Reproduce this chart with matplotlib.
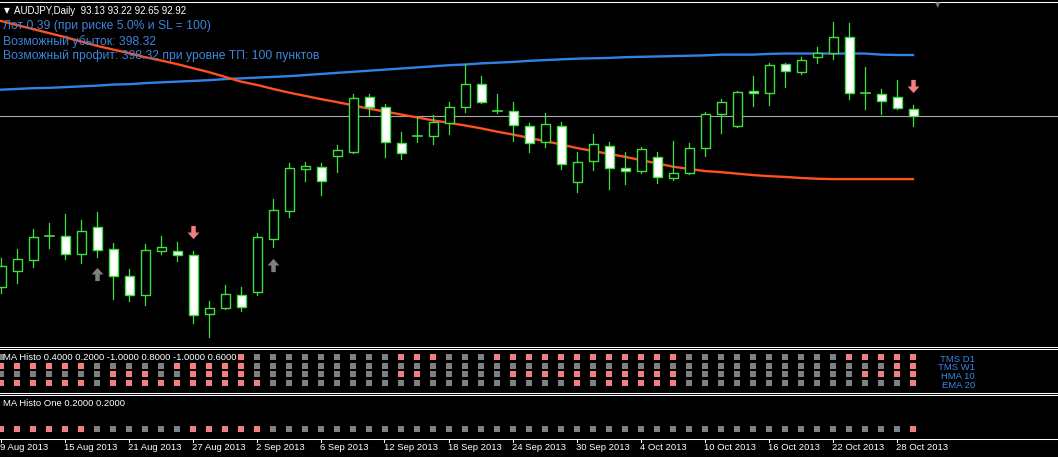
import matplotlib
matplotlib.use("Agg")
import matplotlib.pyplot as plt
from matplotlib.patches import Rectangle
from matplotlib.path import Path
from matplotlib.lines import Line2D

W, H = 1058, 457

# --- daily bars AUDJPY, 9 Aug 2013 .. 29 Oct 2013 ---
opens = [88.24, 88.69, 88.98, 89.64, 89.65, 89.14, 89.90, 89.28, 88.54, 88.03,
         89.24, 89.24, 89.11, 87.50, 87.68, 88.03, 88.11, 89.57, 90.33, 91.48,
         91.52, 91.84, 91.95, 93.44, 93.17, 92.18, 92.39, 92.37, 92.73, 93.17,
         93.80, 93.07, 93.07, 92.66, 92.21, 92.66, 91.11, 91.69, 92.11, 91.50,
         91.41, 91.81, 91.24, 91.36, 92.04, 92.97, 92.66, 93.61, 93.55, 94.35,
         94.14, 94.54, 94.65, 95.08, 93.55, 93.52, 93.44, 93.13]
highs = [89.04, 89.28, 89.83, 89.99, 90.24, 90.08, 90.30, 89.44, 88.74, 89.41,
         89.64, 89.47, 89.23, 87.87, 88.30, 88.24, 89.71, 90.65, 91.65, 91.68,
         91.63, 92.13, 93.53, 93.53, 93.26, 92.50, 92.89, 92.96, 93.32, 94.34,
         94.02, 93.52, 93.32, 92.73, 93.00, 92.77, 91.93, 92.44, 92.22, 91.93,
         92.09, 91.93, 92.24, 92.20, 93.03, 93.39, 93.61, 94.02, 94.39, 94.39,
         94.54, 94.81, 95.50, 95.47, 94.26, 93.66, 93.91, 93.22]
lows = [88.08, 88.34, 88.78, 89.32, 89.00, 88.89, 89.07, 87.91, 87.87, 87.74,
        89.14, 88.95, 87.27, 86.87, 87.63, 87.59, 88.03, 89.35, 90.15, 91.16,
        90.76, 91.40, 91.91, 92.94, 91.80, 91.74, 92.21, 92.15, 92.43, 93.03,
        93.28, 93.00, 92.25, 91.95, 92.09, 91.47, 90.85, 91.45, 90.92, 91.06,
        91.37, 91.08, 91.17, 91.33, 91.84, 92.45, 92.64, 93.21, 93.23, 93.72,
        94.08, 94.37, 94.48, 93.39, 93.13, 92.97, 93.13, 92.65]
closes = [88.82, 89.00, 89.60, 89.64, 89.14, 89.78, 89.25, 88.54, 88.02, 89.26,
          89.33, 89.11, 87.47, 87.68, 88.04, 87.70, 89.61, 90.34, 91.50, 91.55,
          91.14, 91.99, 93.41, 93.17, 92.21, 91.91, 92.39, 92.76, 93.17, 93.80,
          93.30, 93.07, 92.68, 92.18, 92.71, 91.61, 91.66, 92.15, 91.50, 91.41,
          92.02, 91.25, 91.36, 92.04, 92.97, 93.30, 93.58, 93.55, 94.33, 94.16,
          94.46, 94.65, 95.08, 93.55, 93.55, 93.34, 93.14, 92.92]

ma_blue = [93.65, 93.67, 93.69, 93.70, 93.72, 93.74, 93.76, 93.79, 93.80, 93.83,
           93.85, 93.87, 93.89, 93.91, 93.94, 93.96, 93.98, 94.00, 94.02, 94.05,
           94.08, 94.11, 94.14, 94.17, 94.20, 94.23, 94.26, 94.29, 94.32, 94.34,
           94.37, 94.39, 94.41, 94.44, 94.46, 94.48, 94.50, 94.51, 94.52, 94.54,
           94.55, 94.56, 94.57, 94.58, 94.59, 94.61, 94.61, 94.61, 94.63, 94.64,
           94.64, 94.64, 94.64, 94.64, 94.64, 94.61, 94.60, 94.60]
ma_orange = [95.53, 95.42, 95.31, 95.20, 95.09, 94.97, 94.85, 94.75, 94.65, 94.54,
             94.45, 94.35, 94.24, 94.13, 94.00, 93.87, 93.78, 93.67, 93.57, 93.48,
             93.39, 93.31, 93.22, 93.13, 93.05, 92.97, 92.89, 92.81, 92.74, 92.67,
             92.59, 92.50, 92.42, 92.33, 92.24, 92.15, 92.05, 91.97, 91.89, 91.81,
             91.72, 91.63, 91.54, 91.48, 91.42, 91.39, 91.35, 91.31, 91.28, 91.26,
             91.23, 91.21, 91.20, 91.20, 91.20, 91.20, 91.20, 91.20]
bid = 92.92

# signal arrows (bar index, price)
sell_bars = [12, 57]
sell_prices = [89.74, 93.74]
buy_bars = [6, 17]
buy_prices = [88.60, 88.85]

# MA Histo rows: r = red, g = gray, . = hidden under the label
histo_names = ["TMS D1", "TMS W1", "HMA 10", "EMA 20"]
histo_rows = [
    "g.............." "r" "ggggggggg" "rrr" "ggg" "rrrrrrrrrrrr" "gggggggggg" "rrrrr",
    "rrrrrr" "ggggg" "rrrrr" "gggggggggggggggggggggggggggggggggggggggg" "rr",
    "ggggggg" "rrr" "gg" "rrrr" "ggggggggg" "rr" "ggggg" "rrrrrrrrrrr" "ggggggggggg" "rrrr",
    "rrrrrr" "g" "rrrrrrrrrr" "ggggggggggggggggggg" "r" "g" "rrrrr" "gggggggggggggg" "r",
]
histo_one = "rrrrrr" "gggggg" "rrrrr" "gggggggggggggggggggggggggggggggggggggggg" "r"

date_labels = ["9 Aug 2013", "15 Aug 2013", "21 Aug 2013", "27 Aug 2013", "2 Sep 2013",
               "6 Sep 2013", "12 Sep 2013", "18 Sep 2013", "24 Sep 2013", "30 Sep 2013",
               "4 Oct 2013", "10 Oct 2013", "16 Oct 2013", "22 Oct 2013", "28 Oct 2013"]
date_bars = [0, 4, 8, 12, 16, 20, 24, 28, 32, 36, 40, 44, 48, 52, 56]

GREEN = "#3fe03f"
BLUE_TXT = "#3f84dc"
RED = "#f08080"
GRAY = "#808080"
FONT = ["Liberation Sans", "DejaVu Sans"]

fig = plt.figure(figsize=(W / 100, H / 100), dpi=100, facecolor="black")


def fy(y):
    return 1 - y / H


XL = (-1 / 16, (W - 1) / 16)

# ---------- main chart ----------
ax = fig.add_axes([0, fy(346), 1, 344 / H])
ax.set_facecolor("black")
ax.set_xlim(*XL)
ax.set_ylim(86.627, 96.052)
ax.axis("off")

ax.axhline(bid, color="#a8a8a8", lw=0.8, zorder=1)
xs = list(range(len(closes)))
ax.plot(xs, ma_blue, color="#3282e6", lw=1.7, zorder=2)
ax.plot(xs, ma_orange, color="#ff5020", lw=1.7, zorder=2)

bw = 9 / 16
for i in xs:
    o, h, l, c = opens[i], highs[i], lows[i], closes[i]
    ax.plot([i, i], [l, h], color=GREEN, lw=0.9, zorder=3)
    if abs(c - o) < 0.005:
        ax.plot([i - bw / 2, i + bw / 2], [c, c], color=GREEN, lw=1.2, zorder=4)
    else:
        fc = "white" if c < o else "black"
        ax.add_patch(Rectangle((i - bw / 2, min(o, c)), bw, abs(c - o), facecolor=fc,
                               edgecolor=GREEN, lw=1.0, zorder=4))

down = Path([(-0.17, 0.5), (0.17, 0.5), (0.17, 0.0), (0.45, 0.0), (0.0, -0.5),
             (-0.45, 0.0), (-0.17, 0.0), (-0.17, 0.5)], closed=True)
up = Path([(x, -y) for x, y in down.vertices], closed=True)
ax.plot(sell_bars, sell_prices, ls="none", marker=down, ms=9.5, color=RED, mew=0, zorder=5)
ax.plot(buy_bars, buy_prices, ls="none", marker=up, ms=9.5, color=GRAY, mew=0, zorder=5)

# ---------- MA Histo ----------
ax2 = fig.add_axes([0, fy(392), 1, 44 / H])
ax2.set_xlim(*XL)
ax2.set_ylim(4.08, -1.05)
ax2.axis("off")
for k, row in enumerate(histo_rows):
    for i, s in enumerate(row):
        if s == ".":
            continue
        ax2.scatter(i, k, marker="s", s=13, color=RED if s == "r" else GRAY, lw=0)

ax3 = fig.add_axes([0, fy(438), 1, 44 / H])
ax3.set_xlim(*XL)
ax3.set_ylim(9, -35)
ax3.axis("off")
for i, s in enumerate(histo_one):
    ax3.scatter(i, 0, marker="s", s=13, color=RED if s == "r" else GRAY, lw=0)

# ---------- frame lines ----------
for y in [1.5, 346.5, 348.5, 392.5, 394.5, 438.5]:
    fig.add_artist(Line2D([0, 1], [fy(y), fy(y)], color="white", lw=0.75))
for b in date_bars:
    xf = (16 * b + 0.5) / W
    fig.add_artist(Line2D([xf, xf], [fy(438.5), fy(442)], color="white", lw=0.75))
    fig.text(xf, fy(447.5), date_labels[date_bars.index(b)], color="white",
             fontsize=6.8, family=FONT, ha="left", va="center")

# ---------- texts ----------
fig.text(4 / W, fy(10.5), "▼", color="white", fontsize=5.5, family=["DejaVu Sans"],
         ha="left", va="center")
fig.text(14 / W, fy(10.5), "AUDJPY,Daily  93.13 93.22 92.65 92.92", color="white",
         fontsize=7, family=FONT, ha="left", va="center")
fig.text(3 / W, fy(25.5), "Лот 0.39 (при риске 5.0% и SL = 100)", color=BLUE_TXT,
         fontsize=8.7, family=FONT, ha="left", va="center")
fig.text(3 / W, fy(41.5), "Возможный убыток: 398.32", color=BLUE_TXT,
         fontsize=8.7, family=FONT, ha="left", va="center")
fig.text(3 / W, fy(55.5), "Возможный профит: 398.32 при уровне ТП: 100 пунктов",
         color=BLUE_TXT, fontsize=8.7, family=FONT, ha="left", va="center")
fig.text(938 / W, fy(5), "▼", color="#707070", fontsize=5, family=["DejaVu Sans"],
         ha="center", va="center")

fig.text(3 / W, fy(357), "MA Histo 0.4000 0.2000 -1.0000 0.8000 -1.0000 0.6000",
         color="white", fontsize=6.8, family=FONT, ha="left", va="center")
fig.text(3 / W, fy(403.5), "MA Histo One 0.2000 0.2000", color="white",
         fontsize=6.8, family=FONT, ha="left", va="center")
for k, name in enumerate(histo_names):
    fig.text(975 / W, fy(359.5 + 8.5 * k), name, color="#3a86e8", fontsize=6.8,
             family=["Liberation Sans Narrow", "Liberation Sans"], ha="right", va="center")

fig.savefig("out.png", dpi=100, facecolor="black")
